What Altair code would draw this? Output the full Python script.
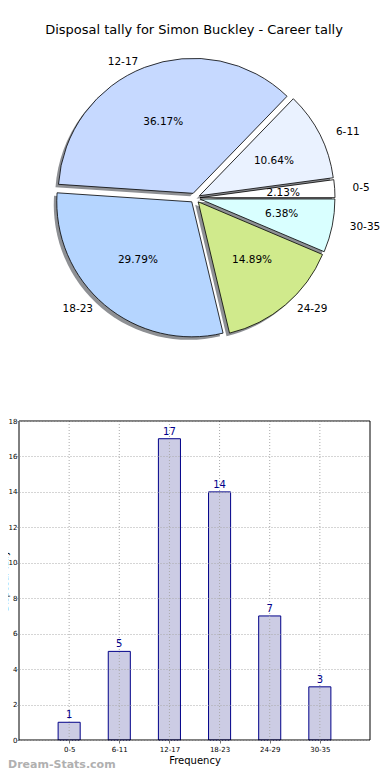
import altair as alt
import pandas as pd

# ---------------- data ----------------
categories = ["0-5", "6-11", "12-17", "18-23", "24-29", "30-35"]
counts = [1, 5, 17, 14, 7, 3]
slice_colors = ["#ffffff", "#eaf2ff", "#c6d9ff", "#b5d5ff", "#d0ea8c", "#d9ffff"]
y_ticks = [0, 2, 4, 6, 8, 10, 12, 14, 16, 18]
x_domain = [0, len(categories) + 1]
y_domain = [0, 18]

title_text = "Disposal tally for Simon Buckley - Career tally"
x_title = "Frequency"
y_title = "Disposal Tally"
watermark = "Dream-Stats.com"

# ---------------- layout (pixels inside the view) ----------------
W, H = 374, 764
FONT = "DejaVu Sans"
CX, CY = 187, 190          # pie centre
RX, RY = 139, 128          # label ellipse radii
R = 135                    # slice radius
EXPLODE = 5
SHADOW = 3

df = pd.DataFrame({
    "cat": categories,
    "count": counts,
    "color": slice_colors,
    "order": list(range(len(categories))),
})

pie_base = (
    alt.Chart(df)
    .transform_joinaggregate(total="sum(count)")
    .transform_window(cum="sum(count)", sort=[alt.SortField("order")], frame=[None, 0])
    .transform_calculate(s="(datum.cum - datum.count) / datum.total")
    .transform_calculate(e="datum.cum / datum.total")
    .transform_calculate(th="2.5 * PI - 2 * PI * datum.e")
    .transform_calculate(th2="2.5 * PI - 2 * PI * datum.s")
    .transform_calculate(a="PI * (datum.s + datum.e)")
    .transform_calculate(cx=f"{CX} + {EXPLODE} * cos(datum.a)")
    .transform_calculate(cy=f"{CY} - {EXPLODE} * sin(datum.a)")
    .transform_calculate(sx=f"datum.cx - {SHADOW}")
    .transform_calculate(sy=f"datum.cy + {SHADOW}")
    .transform_calculate(lx=f"datum.cx + 1.1 * {RX} * cos(datum.a)")
    .transform_calculate(ly=f"datum.cy - 1.1 * {RY} * sin(datum.a)")
    .transform_calculate(px=f"datum.cx + 0.6 * {RX} * cos(datum.a)")
    .transform_calculate(py=f"datum.cy - 0.6 * {RY} * sin(datum.a)")
    .transform_calculate(pct="format(100 * datum.count / datum.total, '.2f') + '%'")
    .transform_calculate(side="cos(datum.a) < 0 ? 'L' : 'R'")
)

shadows = pie_base.mark_arc(fill="#8e9094").encode(
    x=alt.X("sx:Q", scale=None),
    y=alt.Y("sy:Q", scale=None),
    theta=alt.Theta("th:Q", scale=None),
    theta2="th2:Q",
    radius=alt.value(R),
)

slices = pie_base.mark_arc(stroke="black", strokeWidth=0.8).encode(
    x=alt.X("cx:Q", scale=None),
    y=alt.Y("cy:Q", scale=None),
    theta=alt.Theta("th:Q", scale=None),
    theta2="th2:Q",
    radius=alt.value(R),
    fill=alt.Fill("color:N", scale=None),
)

lab_left = pie_base.transform_filter("datum.side == 'L'").mark_text(
    align="right", baseline="middle", font=FONT, fontSize=10.5, color="black"
).encode(
    x=alt.X("lx:Q", scale=None),
    y=alt.Y("ly:Q", scale=None),
    text="cat:N",
)
lab_right = pie_base.transform_filter("datum.side == 'R'").mark_text(
    align="left", baseline="middle", font=FONT, fontSize=10.5, color="black"
).encode(
    x=alt.X("lx:Q", scale=None),
    y=alt.Y("ly:Q", scale=None),
    text="cat:N",
)
pct_text = pie_base.mark_text(
    align="center", baseline="middle", font=FONT, fontSize=10.5, color="black"
).encode(
    x=alt.X("px:Q", scale=None),
    y=alt.Y("py:Q", scale=None),
    text="pct:N",
)

title = alt.Chart(pd.DataFrame({"t": [title_text]})).mark_text(
    font=FONT, fontSize=13, color="black", align="center", baseline="middle"
).encode(x=alt.value(186), y=alt.value(22), text="t:N")

mark_wm = alt.Chart(pd.DataFrame({"t": [watermark]})).mark_text(
    font=FONT, fontSize=11, fontWeight="bold", color="#b0b0b0", align="left", baseline="middle"
).encode(x=alt.value(0), y=alt.value(757), text="t:N")

# ---------------- bar chart ----------------
xscale = alt.Scale(domain=x_domain, range=[11, 362], nice=False, zero=False)
yscale = alt.Scale(domain=y_domain, range=[732, 413], nice=False)

label_expr = "[" + ",".join(f"'{c}'" for c in categories) + "][datum.value - 1]"

x_axis = alt.Axis(
    values=list(range(1, len(categories) + 1)),
    labelExpr=label_expr,
    title=x_title,
    titleFont=FONT,
    titleFontSize=10,
    titleFontWeight="normal",
    titleColor="black",
    titlePadding=3,
    labelFont=FONT,
    labelFontSize=7,
    labelColor="black",
    labelPadding=2,
    grid=False,
    domain=False,
    tickSize=3,
    tickColor="#777777",
    offset=-32,
    zindex=1,
)
y_axis = alt.Axis(
    values=y_ticks,
    title=y_title,
    titleFont=FONT,
    titleFontSize=9,
    titleFontWeight="normal",
    titleColor="black",
    titleX=-10,
    titleBaseline="bottom",
    labelFont=FONT,
    labelFontSize=7,
    labelColor="black",
    labelPadding=0,
    grid=True,
    gridDash=[1, 2],
    gridColor="#aaaaaa",
    gridWidth=1,
    domain=False,
    tickSize=2,
    tickColor="#777777",
    offset=-11,
    zindex=1,
)

bar_base = alt.Chart(df).transform_calculate(pos="datum.order + 1").transform_calculate(
    x0="datum.pos - 0.22", x1="datum.pos + 0.22"
)

bars = bar_base.mark_rect(fill="#ccccE4", stroke="#000088", strokeWidth=1).encode(
    x=alt.X("x0:Q", scale=xscale, axis=x_axis),
    x2="x1:Q",
    y=alt.Y("count:Q", scale=yscale, axis=y_axis),
    y2=alt.datum(0),
)

# vertical dotted grid lines at each category tick
vgrid = bar_base.mark_rule(color="#aaaaaa", strokeDash=[1, 2], strokeWidth=1).encode(
    x=alt.X("pos:Q", scale=xscale, axis=x_axis),
    y=alt.datum(y_domain[0], scale=yscale, axis=y_axis),
    y2=alt.datum(y_domain[1]),
)

bar_labels = bar_base.mark_text(
    font=FONT, fontSize=10, color="#00008b", baseline="bottom", dy=-2
).encode(
    x=alt.X("pos:Q", scale=xscale, axis=x_axis),
    y=alt.Y("count:Q", scale=yscale, axis=y_axis),
    text="count:Q",
)

frame_df = pd.DataFrame({"x0": [x_domain[0]], "x1": [x_domain[1]], "y0": [y_domain[0]], "y1": [y_domain[1]]})
frame = alt.Chart(frame_df).mark_rect(fillOpacity=0, stroke="black", strokeWidth=1).encode(
    x=alt.X("x0:Q", scale=xscale, axis=x_axis),
    x2="x1:Q",
    y=alt.Y("y0:Q", scale=yscale, axis=y_axis),
    y2="y1:Q",
)

chart = alt.layer(
    bars, vgrid, bar_labels, frame,
    shadows, slices, lab_left, lab_right, pct_text, title, mark_wm,
).properties(
    width=W, height=H, padding=0, autosize="none", background="white"
).configure_view(stroke=None)

chart.save("out.html", embed_options={"renderer": "svg", "actions": False})
